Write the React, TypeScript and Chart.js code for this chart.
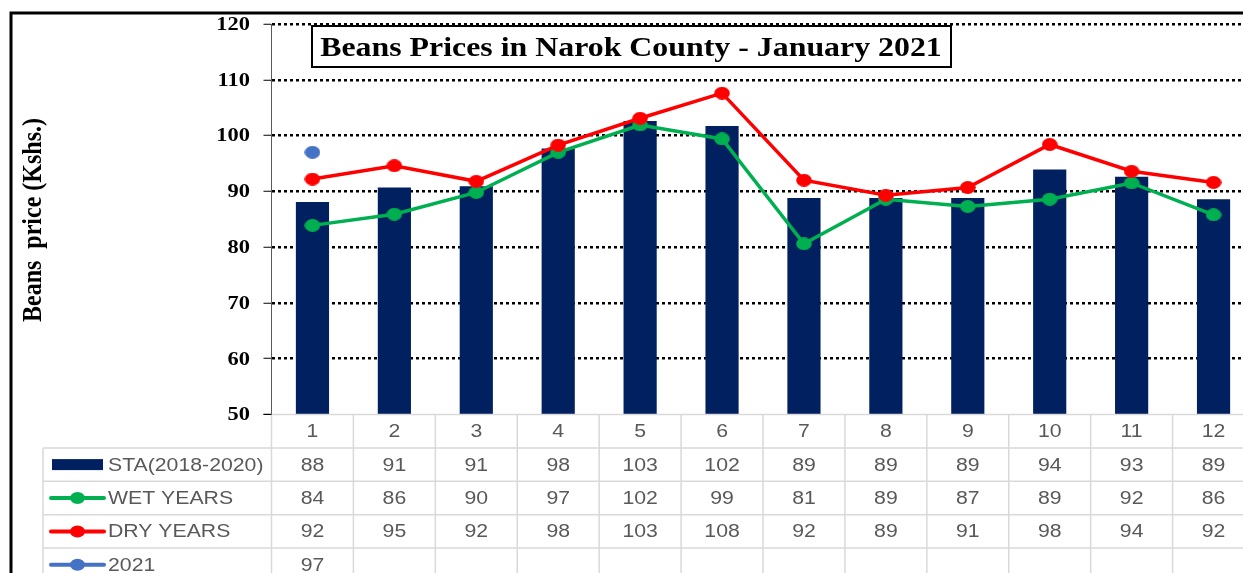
import React, { useEffect, useRef } from 'react';
import { Chart, registerables } from 'chart.js';

Chart.register(...registerables);

// ---- data ----
const months = ['1', '2', '3', '4', '5', '6', '7', '8', '9', '10', '11', '12'];
const staValues = [88.1, 90.7, 90.9, 97.7, 102.6, 101.7, 88.8, 88.8, 88.8, 93.9, 92.6, 88.6];
const wetValues = [83.9, 85.9, 89.8, 97.0, 101.9, 99.4, 80.6, 88.6, 87.3, 88.6, 91.5, 85.8];
const dryValues = [92.2, 94.6, 91.8, 98.3, 103.1, 107.6, 92.0, 89.3, 90.7, 98.4, 93.6, 91.6];
const y2021Values: (number | null)[] = [97, null, null, null, null, null, null, null, null, null, null, null];
const seriesNames = ['STA(2018-2020)', 'WET YEARS', 'DRY YEARS', '2021'];
const chartTitle = 'Beans Prices in Narok County - January 2021';
const yAxisTitle = 'Beans  price (Kshs.)';
const yMin = 50;
const yMax = 120;
const yStep = 10;

const NAVY = '#002060';
const GREEN = '#00B050';
const RED = '#FF0000';
const BLUE = '#4472C4';
const SX = 1.18; // horizontal stretch of text in the reference

function makeDot(color: string): HTMLCanvasElement {
  const c = document.createElement('canvas');
  c.width = 16;
  c.height = 13;
  const g = c.getContext('2d')!;
  g.fillStyle = color;
  g.beginPath();
  g.ellipse(8, 6.5, 7.8, 6.4, 0, 0, Math.PI * 2);
  g.fill();
  return c;
}

function sText(ctx: CanvasRenderingContext2D, text: string, x: number, y: number, align: CanvasTextAlign) {
  ctx.save();
  ctx.translate(x, y);
  ctx.scale(SX, 1);
  ctx.textAlign = align;
  ctx.fillText(text, 0, 0);
  ctx.restore();
}

const decorPlugin = {
  id: 'decor',
  afterDraw(chart: any) {
    const ctx: CanvasRenderingContext2D = chart.ctx;
    const area = chart.chartArea;
    const xs = chart.scales.x;
    const ys = chart.scales.y;
    const W = chart.width;
    const H = chart.height;

    // y tick labels
    ctx.save();
    ctx.fillStyle = '#000';
    ctx.font = 'bold 19px "Liberation Serif", serif';
    ctx.textBaseline = 'middle';
    ys.ticks.forEach((t: any) => {
      sText(ctx, String(t.value), 250, ys.getPixelForValue(t.value) + 1, 'right');
    });
    ctx.restore();

    // y axis title
    ctx.save();
    ctx.fillStyle = '#000';
    ctx.font = 'bold 24px "Liberation Serif", serif';
    ctx.textBaseline = 'middle';
    ctx.translate(34, 220);
    ctx.scale(SX, 1);
    ctx.rotate(-Math.PI / 2);
    ctx.textAlign = 'center';
    ctx.fillText(yAxisTitle, 0, 0);
    ctx.restore();

    // title box
    ctx.save();
    ctx.fillStyle = '#fff';
    ctx.fillRect(312, 26, 639, 41);
    ctx.strokeStyle = '#000';
    ctx.lineWidth = 2;
    ctx.strokeRect(312, 26, 639, 41);
    ctx.fillStyle = '#000';
    ctx.font = 'bold 27px "Liberation Serif", serif';
    ctx.textBaseline = 'alphabetic';
    sText(ctx, chartTitle, 631, 56, 'center');
    ctx.restore();

    // data table
    const rowH = 33.4;
    const top = area.bottom;
    const band = (area.right - area.left) / months.length;
    ctx.save();
    ctx.strokeStyle = '#D9D9D9';
    ctx.lineWidth = 1.5;
    ctx.beginPath();
    ctx.moveTo(area.left, top);
    ctx.lineTo(W, top);
    for (let r = 1; r <= 4; r++) {
      const y = top + r * rowH;
      ctx.moveTo(43, y);
      ctx.lineTo(W, y);
    }
    ctx.moveTo(43, top + rowH);
    ctx.lineTo(43, H);
    for (let i = 0; i <= months.length; i++) {
      const x = area.left + i * band;
      ctx.moveTo(x, top);
      ctx.lineTo(x, H);
    }
    ctx.stroke();

    // y tick mark at 50
    ctx.strokeStyle = '#000';
    ctx.lineWidth = 1;
    ctx.beginPath();
    ctx.moveTo(area.left - 8, top);
    ctx.lineTo(area.left, top);
    ctx.stroke();

    ctx.fillStyle = '#595959';
    ctx.font = '18px "Liberation Sans", Arial, sans-serif';
    ctx.textBaseline = 'middle';
    months.forEach((m, i) => {
      sText(ctx, m, xs.getPixelForValue(i), top + rowH / 2 + 1, 'center');
    });
    const rows = [staValues, wetValues, dryValues, y2021Values];
    rows.forEach((vals, r) => {
      const cy = top + rowH * (r + 1) + rowH / 2 + 1;
      vals.forEach((v, i) => {
        if (v === null || v === undefined) return;
        sText(ctx, String(Math.round(v as number)), xs.getPixelForValue(i), cy, 'center');
      });
      sText(ctx, seriesNames[r], 108, cy, 'left');
    });

    // legend symbols
    const symY = (r: number) => top + rowH * (r + 1) + rowH / 2;
    ctx.fillStyle = NAVY;
    ctx.fillRect(52, symY(0) - 5.5, 51, 11);
    const lineCols = [GREEN, RED, BLUE];
    lineCols.forEach((c, k) => {
      const y = symY(k + 1);
      ctx.strokeStyle = c;
      ctx.lineWidth = 4;
      ctx.lineCap = 'round';
      ctx.beginPath();
      ctx.moveTo(51, y);
      ctx.lineTo(104, y);
      ctx.stroke();
      ctx.fillStyle = c;
      ctx.beginPath();
      ctx.ellipse(77.5, y, 7.5, 6, 0, 0, Math.PI * 2);
      ctx.fill();
    });
    ctx.restore();

    // outer frame
    ctx.save();
    ctx.strokeStyle = '#000';
    ctx.lineWidth = 3;
    ctx.beginPath();
    ctx.moveTo(11, H);
    ctx.lineTo(11, 13);
    ctx.lineTo(W, 13);
    ctx.stroke();
    ctx.restore();
  },
};

export default function App() {
  const ref = useRef<HTMLCanvasElement | null>(null);
  useEffect(() => {
    if (!ref.current) return;
    const chart = new Chart(ref.current, {
      type: 'bar',
      data: {
        labels: months,
        datasets: [
          {
            type: 'bar',
            label: seriesNames[0],
            data: staValues,
            backgroundColor: NAVY,
            barPercentage: 0.405,
            categoryPercentage: 1,
            order: 10,
          },
          {
            type: 'line',
            label: seriesNames[1],
            data: wetValues,
            borderColor: GREEN,
            backgroundColor: GREEN,
            borderWidth: 3.5,
            pointStyle: makeDot(GREEN),
            pointRadius: 7,
            tension: 0,
            order: 3,
          },
          {
            type: 'line',
            label: seriesNames[2],
            data: dryValues,
            borderColor: RED,
            backgroundColor: RED,
            borderWidth: 3.5,
            pointStyle: makeDot(RED),
            pointRadius: 7,
            tension: 0,
            order: 2,
          },
          {
            type: 'line',
            label: seriesNames[3],
            data: y2021Values,
            borderColor: BLUE,
            backgroundColor: BLUE,
            showLine: false,
            pointStyle: makeDot(BLUE),
            pointRadius: 7,
            order: 1,
          },
        ],
      } as any,
      options: {
        responsive: false,
        animation: false,
        layout: {
          autoPadding: false,
          padding: { left: 0, top: 24, right: 1.5, bottom: 573 - 414.5 },
        },
        plugins: {
          legend: { display: false },
          tooltip: { enabled: false },
          title: { display: false },
        },
        scales: {
          x: { display: false, offset: true },
          y: {
            min: yMin,
            max: yMax,
            ticks: { stepSize: yStep, display: false },
            afterFit: (s: any) => {
              s.width = 271.5;
            },
            grid: {
              color: (c: any) => (c.tick && c.tick.value === yMin ? 'rgba(0,0,0,0)' : '#000'),
              lineWidth: 2.5,
              tickColor: '#000',
              tickLength: 8,
              tickWidth: 1,
              tickBorderDash: [],
            },
            border: { display: true, color: '#595959', width: 1, dash: [3, 3] },
          },
        },
      } as any,
      plugins: [decorPlugin],
    });
    return () => chart.destroy();
  }, []);

  return (
    <div
      style={{
        position: 'fixed',
        left: 0,
        top: 0,
        width: 1243,
        height: 573,
        overflow: 'hidden',
        background: '#fff',
      }}
    >
      <canvas ref={ref} width={1256} height={573} style={{ display: 'block' }} />
    </div>
  );
}
